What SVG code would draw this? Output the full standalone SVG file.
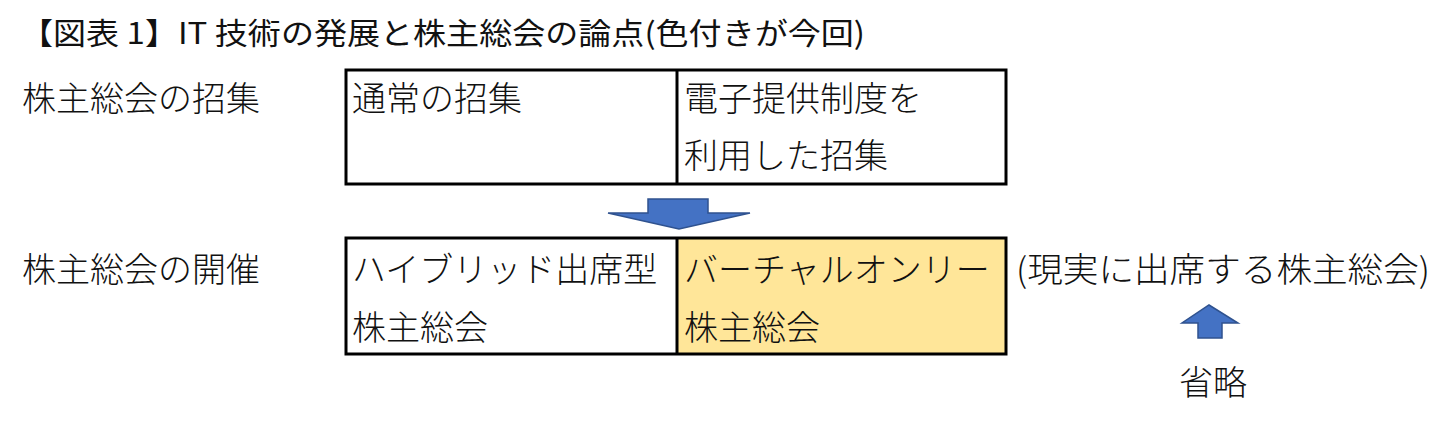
<svg xmlns="http://www.w3.org/2000/svg" width="1455" height="421" viewBox="0 0 1455 421">
<style>
text{font-family:"Noto Sans CJK JP","Noto Sans CJK SC",sans-serif;fill:#111;font-size:34px;font-weight:300}
.title{font-size:30px;font-weight:400}
.box{fill:none;stroke:#000;stroke-width:3}
.arrow{fill:#4472C4;stroke:#2F528F;stroke-width:1.5}
</style>
<rect width="1455" height="421" fill="#fff"/>
<text class="title" x="20" y="44" textLength="845" lengthAdjust="spacingAndGlyphs">【図表 1】IT 技術の発展と株主総会の論点(色付きが今回)</text>
<g id="label-shoshu"><text x="22" y="111">株主総会の招集</text></g>
<g id="label-kaisai"><text x="22" y="282">株主総会の開催</text></g>
<g id="box1">
<rect class="box" x="346" y="70" width="660" height="114"/>
<line x1="677" y1="70" x2="677" y2="184" stroke="#000" stroke-width="3"/>
<text x="352" y="111">通常の招集</text>
<text x="684" y="111">電子提供制度を</text>
<text x="684" y="168">利用した招集</text>
</g>
<g id="box2">
<rect x="677" y="238" width="329" height="116" fill="#FFE699"/>
<rect class="box" x="346" y="238" width="660" height="116"/>
<line x1="677" y1="238" x2="677" y2="354" stroke="#000" stroke-width="3"/>
<text x="352" y="282">ハイブリッド出席型</text>
<text x="352" y="340">株主総会</text>
<text x="684" y="282">バーチャルオンリー</text>
<text x="684" y="340">株主総会</text>
</g>
<g id="real"><text x="1016" y="282" textLength="414" lengthAdjust="spacingAndGlyphs">(現実に出席する株主総会)</text></g>
<g id="omit"><text x="1213" y="395" text-anchor="middle">省略</text></g>
<g id="connectors">
<polygon class="arrow" points="648,199 708,199 708,213 750,213 679,229 608,213 648,213"/>
<polygon class="arrow" points="1209,305 1238,323 1222,323 1222,338 1198,338 1198,323 1182,323"/>
</g>
</svg>
